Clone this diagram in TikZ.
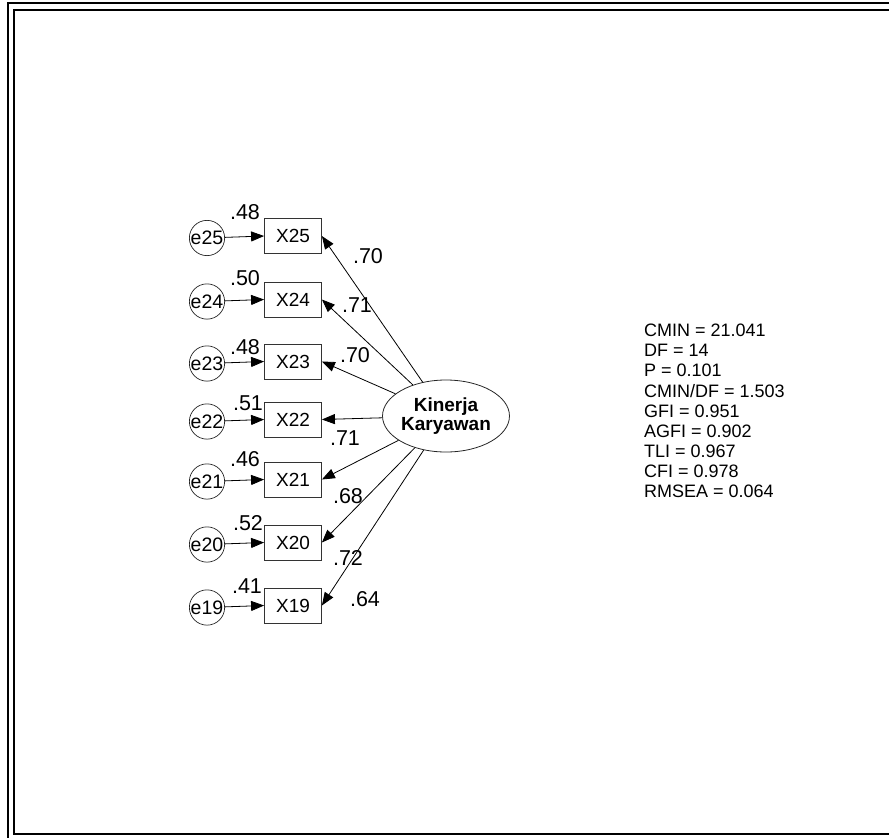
\documentclass[tikz,border=0pt]{standalone}
\usepackage{fontspec}
\setmainfont{Liberation Sans}
\usetikzlibrary{arrows.meta, shapes.geometric, positioning}

\tikzset{
  obs/.style={draw=black!80, line width=0.8pt, rectangle, minimum width=57pt, minimum height=35pt, inner sep=0pt, font=\fontsize{19}{19}\selectfont},
  err/.style={draw=black!85, line width=0.7pt, circle, minimum size=35pt, inner sep=0pt, font=\fontsize{19.5}{19}\selectfont},
  lat/.style={draw=black!85, line width=0.8pt, ellipse, minimum width=114pt, minimum height=72pt, inner sep=0pt, align=center, font=\fontsize{19}{19.5}\selectfont\bfseries},
  arr/.style={-{Triangle[length=13pt,width=10pt]}, line width=0.8pt},
  coef/.style={inner sep=0pt, font=\fontsize{21.5}{21.5}\selectfont},
}

\begin{document}
\begin{tikzpicture}[x=1pt, y=-1pt]
  \useasboundingbox (0,0) rectangle (889,838);

  % double frame
  \begin{scope}
    \clip (0,0) rectangle (889,838);
    \draw[line width=2pt] (8,3) rectangle (900,850);
    \draw[line width=2pt] (13.5,9.5) rectangle (900,834);
  \end{scope}

  % latent variable
  \node[lat] (kk) at (446,416) {Kinerja\\Karyawan};

  % indicators with error terms
  \foreach \n/\y/\r/\rx/\ry in {25/236/.48/245/212, 24/299.5/.50/245/278, 23/361.5/.48/245/347,
      22/419.5/.51/248/403, 21/479.5/.46/245/459, 20/542.5/.52/248/523, 19/605.5/.41/247/586} {
    \node[obs] (x\n) at (293,\y) {X\n};
    \node[err] (e\n) at (207,\y+2) {e\n};
    \draw[arr] (e\n) -- (x\n.west);
    \node[coef] (r\n) at (\rx,\ry) {\r};
  }

  % loadings
  \foreach \n in {25,24,23,22,21,20,19}
    \draw[arr] (kk) -- (x\n.east);
  \node[coef] (l25) at (368,256) {.70};
  \node[coef] (l24) at (357,305) {.71};
  \node[coef] (l23) at (355,355) {.70};
  \node[coef] (l22) at (345,438) {.71};
  \node[coef] (l21) at (348,496) {.68};
  \node[coef] (l20) at (348,558) {.72};
  \node[coef] (l19) at (365,599) {.64};

  % fit indices
  \node[anchor=north west, inner sep=0pt, align=left, font=\fontsize{18}{20.1}\selectfont] (fit) at (644,324) {
    CMIN = 21.041\\
    DF = 14\\
    P = 0.101\\
    CMIN/DF = 1.503\\
    GFI = 0.951\\
    AGFI = 0.902\\
    TLI = 0.967\\
    CFI = 0.978\\
    RMSEA = 0.064
  };
\end{tikzpicture}
\end{document}
